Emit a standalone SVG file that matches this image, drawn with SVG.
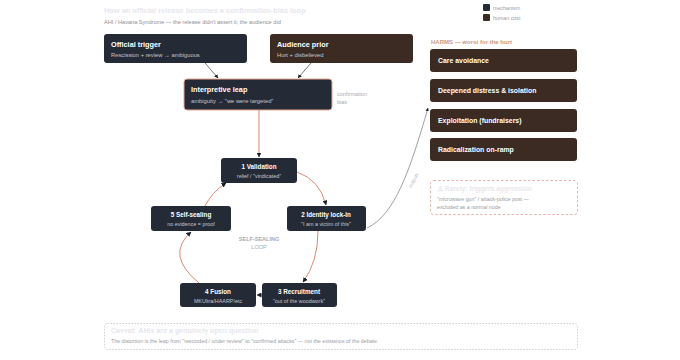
<svg xmlns="http://www.w3.org/2000/svg" width="680" height="360" viewBox="0 0 680 360">
<defs>
<style>
text{font-family:"Liberation Sans",Arial,sans-serif}
.mech{fill:#252a37}
.cost{fill:#3b2b22}
.t{fill:#ffffff;font-weight:bold;font-size:7.3px}
.lt{fill:#ffffff;font-weight:bold;font-size:6.3px;text-anchor:middle}
.s{fill:#c3c6ce;font-size:5.8px}
.ls{fill:#c3c6ce;font-size:5.4px;text-anchor:middle}
.h{fill:#ffffff;font-weight:bold;font-size:6.9px}
.loop{fill:none;stroke:#d98a72;stroke-width:1}
.faint{fill:#e6e7ee;font-weight:bold;font-size:7.1px}
.note{fill:#9a9ca4;font-size:5.3px}
.lbl{fill:#a8aab2;font-size:5.5px}
</style>
<marker id="ah" viewBox="0 0 10 10" refX="9" refY="5" markerWidth="5" markerHeight="5" orient="auto">
<path d="M0,0 L10,5 L0,10 z" fill="#1b1f2a"/>
</marker>
</defs>
<rect width="680" height="360" fill="#ffffff"/>
<text x="104" y="13" class="faint" style="font-size:7.4px">How an official release becomes a confirmation-bias loop</text>
<text x="104" y="24" class="note" style="font-size:5.6px;fill:#8e9098">AHI / Havana Syndrome — the release didn't assert it; the audience did</text>
<g id="legend">
<rect x="483" y="4" width="7" height="7" rx="1" class="mech"/>
<text x="493" y="10" class="note">mechanism</text>
<rect x="483" y="14" width="7" height="7" rx="1" class="cost"/>
<text x="493" y="20" class="note">human cost</text>
</g>
<g id="connectors">
<path d="M205,63 L218,78" stroke="#555" stroke-width="0.8" fill="none" marker-end="url(#ah)"/>
<path d="M311,63 L298,78" stroke="#555" stroke-width="0.8" fill="none" marker-end="url(#ah)"/>
<path d="M259,110 L259,157" class="loop" marker-end="url(#ah)"/>
<path d="M297,172 Q320,180 326,205" class="loop" marker-end="url(#ah)"/>
<path d="M318,231 Q318,262 303,282" class="loop" marker-end="url(#ah)"/>
<path d="M262,295 L257,295" class="loop" marker-end="url(#ah)"/>
<path d="M199,283 Q165,255 191,232" class="loop" marker-end="url(#ah)"/>
<path d="M205,206 Q212,192 226,183" class="loop" marker-end="url(#ah)"/>
<path d="M367,228 C395,215 410,170 428,108" fill="none" stroke="#777" stroke-width="0.7" marker-end="url(#ah)"/>
<text transform="translate(415,181) rotate(-62)" class="lbl" style="font-size:4.8px;fill:#b8bac2" text-anchor="middle">outputs</text>
<text x="337" y="96" class="lbl">confirmation</text>
<text x="337" y="104" class="lbl">bias</text>
<text x="259" y="241" class="lbl" text-anchor="middle" font-weight="bold">SELF-SEALING</text>
<text x="259" y="249" class="lbl" text-anchor="middle">LOOP</text>
</g>
<g id="official-trigger">
<rect x="104" y="34" width="143" height="29" rx="3" class="mech"/>
<text x="111" y="47" class="t">Official trigger</text>
<text x="111" y="57" class="s">Rescission + review → ambiguous</text>
</g>
<g id="audience-prior">
<rect x="270" y="34" width="143" height="29" rx="3" class="cost"/>
<text x="277" y="47" class="t">Audience prior</text>
<text x="277" y="57" class="s">Hurt + disbelieved</text>
</g>
<g id="interpretive-leap">
<rect x="184" y="79" width="148" height="31" rx="3" class="mech" stroke="#e8a890" stroke-width="1"/>
<text x="191" y="92" class="t">Interpretive leap</text>
<text x="191" y="103" class="s">ambiguity → "we were targeted"</text>
</g>
<g id="n1-validation">
<rect x="221" y="158" width="76" height="25" rx="3" class="mech"/>
<text x="259" y="168.5" class="lt">1 Validation</text>
<text x="259" y="177.5" class="ls">relief / "vindicated"</text>
</g>
<g id="n2-identity">
<rect x="287" y="206" width="79" height="25" rx="3" class="mech"/>
<text x="326" y="216.5" class="lt">2 Identity lock-in</text>
<text x="326" y="225.5" class="ls">"I am a victim of this"</text>
</g>
<g id="n3-recruitment">
<rect x="262" y="283" width="75" height="24" rx="3" class="mech"/>
<text x="299" y="293.5" class="lt">3 Recruitment</text>
<text x="299" y="302.5" class="ls">"out of the woodwork"</text>
</g>
<g id="n4-fusion">
<rect x="180" y="283" width="76" height="24" rx="3" class="mech"/>
<text x="218" y="293.5" class="lt">4 Fusion</text>
<text x="218" y="302.5" class="ls">MKUltra/HAARP/etc</text>
</g>
<g id="n5-self-sealing">
<rect x="151" y="206" width="80" height="25" rx="3" class="mech"/>
<text x="191" y="216.5" class="lt">5 Self-sealing</text>
<text x="191" y="225.5" class="ls">no evidence = proof</text>
</g>
<g id="harms">
<text x="431" y="44" font-size="6" font-weight="bold" fill="#c9997f">HARMS — worst for the hurt</text>
<g id="harm-care"><rect x="430" y="49" width="147" height="23" rx="3" class="cost"/><text x="438" y="63" class="h">Care avoidance</text></g>
<g id="harm-distress"><rect x="430" y="79" width="147" height="23" rx="3" class="cost"/><text x="438" y="93" class="h">Deepened distress &amp; isolation</text></g>
<g id="harm-exploitation"><rect x="430" y="109" width="147" height="23" rx="3" class="cost"/><text x="438" y="123" class="h">Exploitation (fundraisers)</text></g>
<g id="harm-radicalization"><rect x="430" y="138" width="147" height="23" rx="3" class="cost"/><text x="438" y="152" class="h">Radicalization on-ramp</text></g>
</g>
<g id="rare-aggression">
<rect x="430.5" y="180.5" width="147" height="34" rx="3" fill="#ffffff" stroke="#e6a090" stroke-width="0.8" stroke-dasharray="2.5,2"/>
<text x="437" y="191" class="faint" style="font-size:6.7px">⚠ Rarely: triggers aggression</text>
<text x="437" y="201" class="note">"microwave gun" / attack-police post —</text>
<text x="437" y="209" class="note">excluded as a normal node</text>
</g>
<g id="caveat">
<rect x="104.5" y="323.5" width="473" height="26" rx="3" fill="#ffffff" stroke="#b8bac2" stroke-width="0.7" stroke-dasharray="1.5,1.5"/>
<text x="111" y="333" class="faint">Caveat: AHIs are a genuinely open question</text>
<text x="111" y="343" class="note">The distortion is the leap from "rescinded / under review" to "confirmed attacks" — not the existence of the debate.</text>
</g>
</svg>
